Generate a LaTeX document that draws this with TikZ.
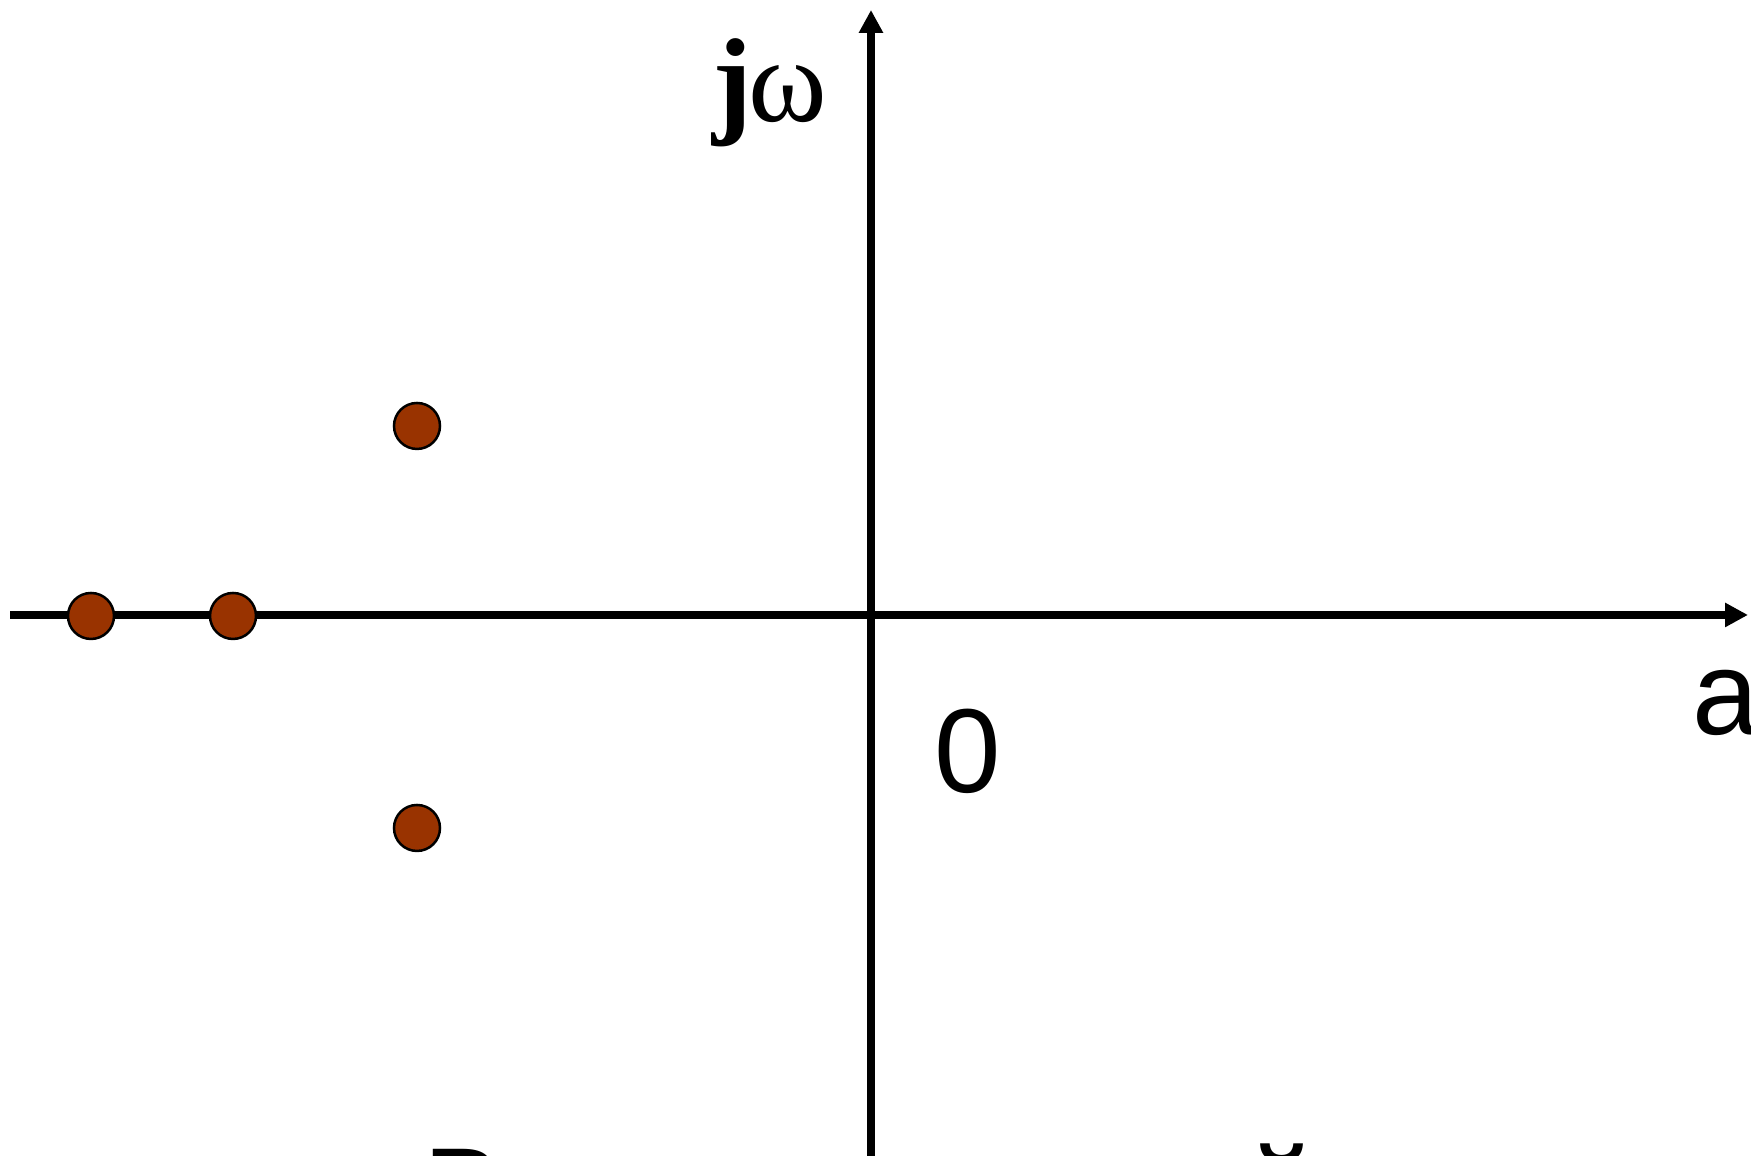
\documentclass[tikz,border=0pt]{standalone}
\usepackage{fontspec}
\setmainfont{Liberation Sans}
\newfontfamily\symfont{Liberation Serif}
\usetikzlibrary{arrows.meta,positioning}
\definecolor{polebrown}{RGB}{153,51,0}

\begin{document}
\begin{tikzpicture}[>={Triangle[length=2.3mm,width=2.3mm]},
  axis/.style={line width=0.8mm,black},
  pole/.style={circle,draw=black,line width=0.25mm,fill=polebrown,
    minimum size=4.6mm,inner sep=0pt},
  biglabel/.style={font=\fontsize{34}{40}\selectfont,inner sep=0pt}]

%% ── frame ────────────────────────────────────────────────────────────────────
\useasboundingbox (0,0) rectangle (17.51,11.56);
\clip (0,0) rectangle (17.51,11.56);

%% ── axes ─────────────────────────────────────────────────────────────────────
\coordinate (xstart) at (0.10,5.41);
\coordinate (xend)   at (17.48,5.41);
\coordinate (ystart) at (8.71,-0.20);
\coordinate (yend)   at (8.71,11.46);
\draw[axis,->] (xstart) -- (xend);
\draw[axis,->] (ystart) -- (yend);

%% ── axis labels ──────────────────────────────────────────────────────────────
\node[biglabel,anchor=base east] (jw) at (8.28,10.34)
  {{\symfont\bfseries j}\kern-1pt{\symfont ω}};
\node[biglabel,anchor=base west] (re) at (16.92,4.21) {a};
\node[biglabel] (origin) at (9.68,4.05) {0};

%% ── poles ────────────────────────────────────────────────────────────────────
\node[pole] (p1) at (0.91,5.40) {};
\node[pole] (p2) at (2.33,5.40) {};
\node[pole] (p3) at (4.17,7.30) {};
\node[pole] (p4) at (4.17,3.28) {};

%% ── text cut off at the bottom ───────────────────────────────────────────────
\node[biglabel,anchor=base west] (cut1) at (4.23,-0.76) {В};
\node[biglabel,anchor=base] (cut2) at (12.82,-0.77) {й};

\end{tikzpicture}
\end{document}
